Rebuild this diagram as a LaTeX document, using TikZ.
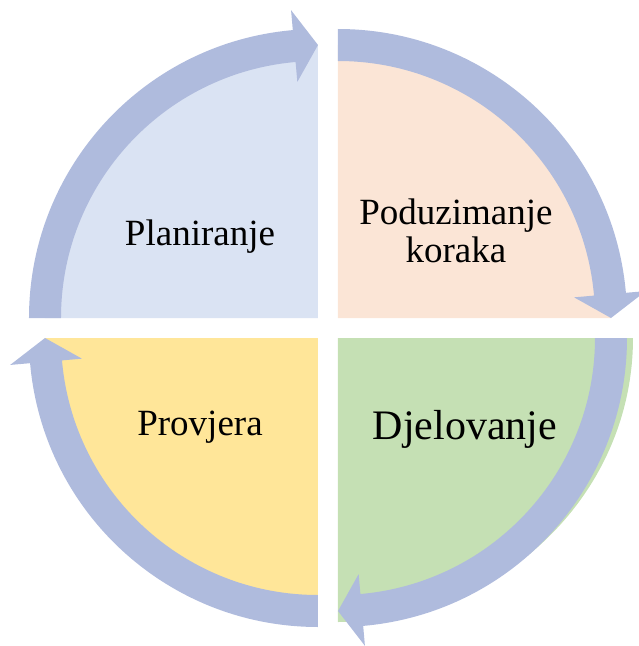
\documentclass[tikz,border=0pt]{standalone}
\usepackage{fontspec}
\setmainfont{Liberation Serif}
\usetikzlibrary{calc}
\definecolor{arrowblue}{RGB}{175,187,221}
\definecolor{planblue}{RGB}{218,227,243}
\definecolor{stepspeach}{RGB}{251,229,214}
\definecolor{actiongreen}{RGB}{197,224,180}
\definecolor{checkyellow}{RGB}{255,230,153}
\newcommand{\quarter}[5] % x, y of corner, start angle, radius, colour
{
	% filled quarter disc, clockwise from start angle
	\fill[#5] (#1,#2) -- ($(#1,#2)+(#3:#4)$) arc (#3:#3-90:#4) -- cycle;
}
\newcommand{\cyclearrow}[3] % x, y of corner, start angle
{
	% band from start angle, head at start angle - 90
	\fill[arrowblue] ($(#1,#2)+(#3:257)$) -- ($(#1,#2)+(#3:289)$)
		arc (#3:#3-85:289)
		-- ($(#1,#2)+(#3-85:309)$)
		-- ($(#1,#2)+(#3-90:273)$)
		-- ($(#1,#2)+(#3-85:237)$)
		-- ($(#1,#2)+(#3-85:257)$)
		arc (#3-85:#3:257) -- cycle;
}
\tikzset{steptext/.style={font=\fontsize{37}{38}\selectfont, align=center, inner sep=0pt}}

\begin{document}
\begin{tikzpicture}[x=1pt, y=1pt]
	\useasboundingbox (-328,-318) rectangle (310,328);
	% four quarters, 20pt apart
	\quarter{-10}{10}{180}{273}{planblue};
	\quarter{10}{10}{90}{273}{stepspeach};
	\quarter{10}{-10}{0}{295 and 284}{actiongreen};
	\quarter{-10}{-10}{270}{273}{checkyellow};
	
	% arrows round the cycle
	\cyclearrow{-10}{10}{180};
	\cyclearrow{10}{10}{90};
	\cyclearrow{10}{-10}{0};
	\cyclearrow{-10}{-10}{-90};
	
	% labels
	\node[steptext, anchor=base] (plan) at (-128,83) {Planiranje};
	\node[steptext] (steps) at (128,97) {Poduzimanje\\koraka};
	\node[steptext, anchor=base, font=\fontsize{42}{44}\selectfont] (action) at (137,-111) {Djelovanje};
	\node[steptext, anchor=base] (check) at (-128,-107) {Provjera};
\end{tikzpicture}
\end{document}
